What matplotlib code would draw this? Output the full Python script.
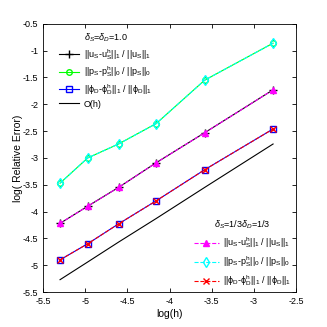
import numpy as np
import matplotlib
matplotlib.use('Agg')
import matplotlib.pyplot as plt

plt.rcParams['font.family'] = ['Liberation Sans', 'DejaVu Sans']
plt.rcParams['mathtext.fontset'] = 'custom'
plt.rcParams['mathtext.rm'] = 'Liberation Sans'
plt.rcParams['mathtext.it'] = 'Liberation Sans:italic'
plt.rcParams['axes.unicode_minus'] = False

# log(h) for h = 1/200, 1/144, 1/100, 1/64, 1/36, 1/16
logh = [-5.298, -4.970, -4.605, -4.159, -3.584, -2.773]

# delta_S = delta_D = 1.0
err_u1 = [-4.22, -3.90, -3.55, -3.09, -2.53, -1.73]
err_p1 = [-3.47, -3.00, -2.74, -2.36, -1.55, -0.86]
err_phi1 = [-4.90, -4.60, -4.23, -3.80, -3.22, -2.46]
# delta_S = delta_D = 1/3
err_u3 = [-4.22, -3.90, -3.55, -3.09, -2.53, -1.73]
err_p3 = [-3.47, -3.00, -2.74, -2.36, -1.55, -0.86]
err_phi3 = [-4.90, -4.60, -4.23, -3.80, -3.22, -2.46]
# reference slope O(h)
ref_oh = [-5.27, -4.94, -4.57, -4.13, -3.55, -2.74]

lab_u = r'$\mathrm{||u_S}$-$\mathrm{u_S^h||_1}$ / $\mathrm{||u_S||_1}$'
lab_p = r'$\mathrm{||p_S}$-$\mathrm{p_S^h||_0}$ / $\mathrm{||p_S||_0}$'
lab_phi = r'$\mathrm{||\phi_D}$-$\mathrm{\phi_D^h||_1}$ / $\mathrm{||\phi_D||_1}$'

fig = plt.figure(figsize=(3.27, 3.27), dpi=100)
ax = fig.add_axes([0.1315, 0.107, 0.774, 0.82])

l1, = ax.plot(logh, err_u1, 'k-', marker='+', ms=6, lw=0.8, label=lab_u)
l2, = ax.plot(logh, err_p1, '-', color='#00ff00', marker='o', ms=4, mfc='none', lw=0.8, label=lab_p)
l3, = ax.plot(logh, err_phi1, 'b-', marker='s', ms=4, mfc='none', lw=0.8, label=lab_phi)
l4, = ax.plot(logh, ref_oh, 'k-', lw=0.8, label='O(h)')

m1, = ax.plot(logh, err_u3, '--', color='magenta', marker='^', ms=4, lw=0.8, label=lab_u)
m2, = ax.plot(logh, err_p3, '--', color='cyan', marker='d', ms=5, mfc='none', lw=0.8, label=lab_p)
m3, = ax.plot(logh, err_phi3, '--', color='red', marker='x', ms=4, lw=0.8, label=lab_phi)

ax.set_xlim(-5.5, -2.5)
ax.set_ylim(-5.5, -0.5)
ax.set_xticks(np.arange(-5.5, -2.4, 0.5))
ax.set_yticks(np.arange(-5.5, -0.4, 0.5))
ax.set_xticklabels(['-5.5', '-5', '-4.5', '-4', '-3.5', '-3', '-2.5'])
ax.set_yticklabels(['-5.5', '-5', '-4.5', '-4', '-3.5', '-3', '-2.5', '-2', '-1.5', '-1', '-0.5'])
ax.tick_params(direction='in', top=True, right=True, labelsize=6.5, length=3, width=0.6)
for s in ax.spines.values():
    s.set_linewidth(0.6)
ax.set_xlabel('log(h)', fontsize=7.5, labelpad=2)
ax.set_ylabel('log( Relative Error)', fontsize=7.5, labelpad=0)

leg1 = ax.legend(handles=[l1, l2, l3, l4], loc='upper left', frameon=False,
                 fontsize=6.5, title=r'$\delta_S$=$\delta_D$=1.0', title_fontsize=6.5,
                 handlelength=2.2, borderaxespad=0.2, labelspacing=0.3, handletextpad=0.5,
                 borderpad=0.2, bbox_to_anchor=(0.05, 0.985))
ax.add_artist(leg1)
leg2 = ax.legend(handles=[m1, m2, m3], loc='lower right', frameon=False,
                 fontsize=6.5, title=r'$\delta_S$=1/3$\delta_D$=1/3', title_fontsize=6.5,
                 handlelength=2.8, borderaxespad=0.2, labelspacing=0.45, handletextpad=0.5,
                 borderpad=0.3, bbox_to_anchor=(1.0, -0.003))

fig.savefig('out.png', dpi=100)
